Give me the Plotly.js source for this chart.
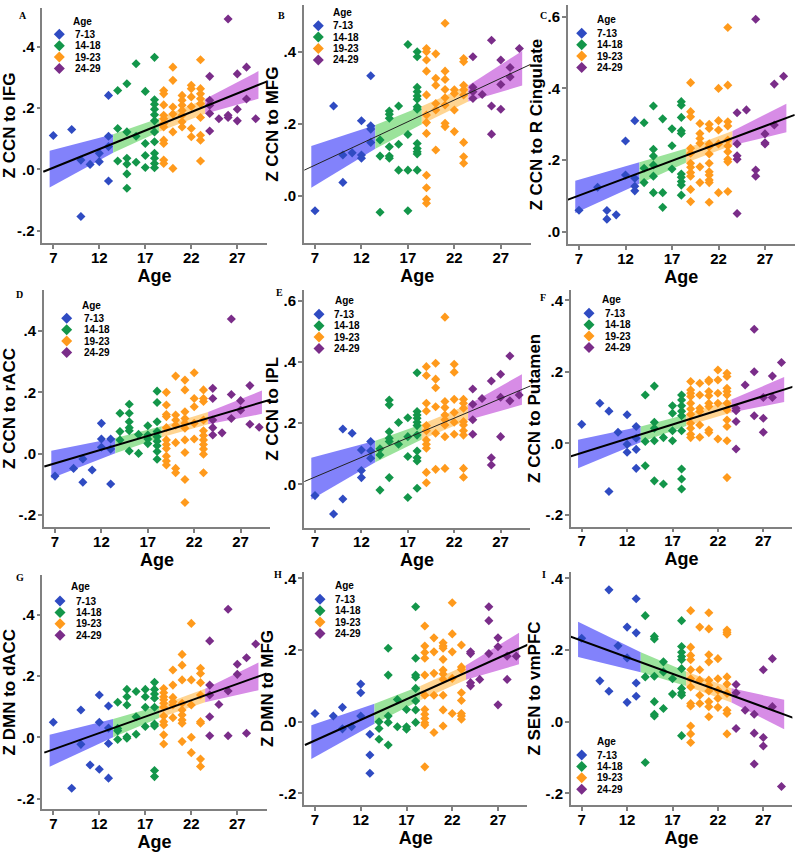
<!DOCTYPE html>
<html><head><meta charset="utf-8">
<script src="https://cdn.plot.ly/plotly-3.0.1.min.js"></script>
<style>html,body{margin:0;padding:0;background:#fff}#chart{width:800px;height:856px}</style>
</head><body><div id="chart"></div>
<script>
// ---------- shared categories / ticks ----------
const ages = [7,9,10,11,12,13,14,15,16,17,18,19,20,21,22,23,24,25,26,27,28,29];
const groups = ['7-13','14-18','19-23','24-29'];
const groupMin = [7,14,19,24];
const groupMax = [13,18,23,29];
const xTickLabels = ['7','12','17','22','27'];
const ciAges = [6.6, 13.5, 18.5, 23.5, 29.3];

// ---------- panel A : Z CCN to IFG ----------
const zA = [[.11],[.13],[.03,-.154],[.016],[.025,.052],[.241,.108,.074,-.038],
 [.133,.027,.257],[.279,.122,.036,.017,-.015,-.062],[.344,.108,.023],[.254,.084,.045,.006],
 [.365,.227,.212,.196,.178,.158,.122,.09,.052,.036,.019,.005],
 [.257,.246,.21,.176,.165,.149,.138,.095,.084,.03,.019],[.333,.29,.203,.18,.122,.003],
 [.241,.225,.209,.192,.176,.155,.138],[.274,.263,.236,.205,.133,.106],
 [.357,.263,.246,.23,.214,.169,.111,.095,.027],
 [.303,.225,.209,.182,.125],[.165],[.49,.176,.169],[.311,.196,.158],[.333,.229],[.165]];
const fitAgeA = [5.91, 30.19], fitZA = [-0.008, 0.286];
const ciHalfA = [0.06, 0.03, 0.022, 0.024, 0.045];
const yTicksA = ['-.2','.0','.2','.4'];

// ---------- panel B : Z CCN to MFG ----------
const zB = [[-.042],[.249],[.113,.037],[.119],[.208,.113,.104],[.333,.194,.185,.148],
 [.155,.11,-.046],[.235,.226,.215,.136,.11,.104],[.249,.143,.071],[.42,.17,.071,-.042],
 [.4,.386,.301,.289,.277,.268,.247,.24,.145,.131,.122,.116,.071],
 [.409,.4,.377,.346,.28,.224,.203,.173,.057,.022,-.01,-.021],[.394,.326,.307,.256,.238,.127],
 [.479,.346,.323,.295,.272,.252,.201,.192],[.294,.284,.238,.178],
 [.381,.372,.307,.294,.28,.148,.108,.09],
 [.386,.301,.289,.27],[.281],[.432,.249,.171],[.377,.309,.24],[.356,.33],[.409]];
const fitAgeB = [5.85, 30.3], fitZB = [0.071, 0.366];
const ciHalfB = [0.058, 0.033, 0.025, 0.022, 0.048];
const yTicksB = ['.0','.2','.4'];

// ---------- panel C : Z CCN to R Cingulate ----------
const zC = [[.06],[.124],[.059,.035],[.047],[.253,.158],[.31,.149,.127,.114],
 [.304,.177,.137],[.351,.23,.211,.186,.155,.109],[.315,.109,.068],[.287,.24,.175],
 [.363,.353,.319,.282,.274,.161,.152,.14,.13,.102],
 [.416,.335,.321,.233,.219,.191,.18,.165,.155,.118,.084],[.302,.274,.26,.247,.181,.137],
 [.3,.288,.245,.237,.217,.191,.167,.158,.144,.137,.082],[.4,.31,.284,.245,.109],
 [.57,.409,.307,.295,.256,.239,.223,.202,.195,.112],
 [.332,.245,.212,.202,.051],[.34],[.593,.172,.155],[.273,.248,.245],[.412,.298],[.434]];
const fitAgeC = [5.67, 30.2], fitZC = [0.088, 0.326];
const ciHalfC = [0.045, 0.03, 0.02, 0.02, 0.04];
const yTicksC = ['.0','.2','.4','.6'];

// ---------- panel D : Z CCN to rACC ----------
const zD = [[-.073],[-.048],[-.017,-.093],[-.053],[.099,.048,.021],[.048,.015,-.099],
 [.132,.072,.045],[.161,.132,.104,.085,.075,.009],[.063,.001],[.091,.061,.048,.033],
 [.204,.167,.104,.072,.055,.041,.026,.007,-.018],
 [.2,.159,.128,.121,.085,.045,.03,.017,-.008,-.024,-.037],[.253,.126,.11,.093,.036,-.048,-.062],
 [.24,.208,.137,.115,.099,.083,.045,.004,-.084,-.159],[.264,.18,.153,.099,.048],
 [.208,.18,.17,.11,.075,.059,.045,.03,.015,-.002,-.062],
 [.213,.18,.11,.085,.061],[.068],[.439,.193,.115],[.173,.142],[.222,.096],[.086]];
const fitAgeD = [5.85, 30.2], fitZD = [-0.042, 0.176];
const ciHalfD = [0.045, 0.025, 0.018, 0.02, 0.038];
const yTicksD = ['-.2','.0','.2','.4'];

// ---------- panel E : Z CCN to IPL ----------
const zE = [[-.037],[-.097],[.181,-.048],[.167],[.112,.045,.022],[.14,.11,.085],
 [.116,.096,-.019],[.276,.26,.172,.151,.14,.022],[.202,.131],[.218,.156,.091,-.043],
 [.365,.238,.227,.216,.203,.192,.161,.109,.087,.076,-.013],
 [.385,.356,.265,.24,.192,.175,.145,.131,.118,.039,.005],[.396,.344,.316,.254,.167,.049],
 [.547,.271,.251,.227,.211,.194,.156,.052],[.393,.367,.278,.235,.203,.164],
 [.278,.265,.249,.205,.194,.175,.161,.052,.023],
 [.312,.262,.211,.164],[.281],[.338,.087,.063],[.36,.285,.156],[.42,.273],[.292]];
const fitAgeE = [5.85, 30.3], fitZE = [0.009, 0.323];
const ciHalfE = [0.068, 0.035, 0.025, 0.025, 0.05];
const yTicksE = ['.0','.2','.4','.6'];

// ---------- panel F : Z CCN to Putamen ----------
const zF = [[.053],[.112],[.09,-.135],[.031],[.08,-.003,-.025],[.047,.014,-.017,-.07],
 [.135,.005,-.063],[.16,.059,.042,.007,-.105],[.016,-.114],[.105,.084,.035,.007],
 [.135,.121,.105,.09,.077,.035,-.072,-.1,-.128],
 [.173,.149,.14,.131,.112,.096,.081,.056,.042,.025,.016],[.168,.135,.098,.089,.051,.017],
 [.177,.173,.145,.133,.112,.103,.037,.03],[.205,.177,.14,.112,.012],
 [.196,.187,.154,.145,.135,.112,.093,.065,.047,.007,-.096],
 [.098,.091,.061,-.016],[.163],[.319,.2,.077],[.128,.07,.031],[.188,.128],[.226]];
const fitAgeF = [5.72, 30.5], fitZF = [-0.037, 0.16];
const ciHalfF = [0.04, 0.022, 0.016, 0.018, 0.035];
const yTicksF = ['-.2','.0','.2','.4'];

// ---------- panel G : Z DMN to dACC ----------
const zG = [[.049],[-.166],[.089,-.023],[-.09],[.138,.049,-.104],[.102,.03,-.02,-.133],
 [.114,.029,.021,-.007],[.156,.132,.105,.002,-.003],[.149,.067,.01],[.156,.132,.098,.035],
 [.179,.156,.141,.127,.098,.043,.037,-.108,-.128],
 [.159,.145,.132,.122,.111,.098,.069,.051,.04,.008,-.022],[.219,.17,.13,.116,.105,.064],
 [.27,.235,.187,.111,.089,.073,.056,.046,-.014],[.371,.187,.105,0,-.05],
 [.225,.208,.178,.138,.051,.046,-.071,-.095],
 [.314,.17,.138,.067,.005],[.107],[.417,.151,.005],[.238,.205],[.259,.013],[.304]];
const fitAgeG = [6.02, 30.2], fitZG = [-0.05, 0.208];
const ciHalfG = [0.052, 0.03, 0.02, 0.022, 0.045];
const yTicksG = ['-.2','.0','.2','.4'];

// ---------- panel H : Z DMN to MFG ----------
const zH = [[.023],[.016],[.04,-.02],[-.014],[.105,.081,.016],[-.035,-.093,-.144],
 [0,-.019,-.049],[.205,.13,.016,-.002,-.065],[.062,-.014],[.034,-.014,-.021],
 [.321,.177,.13,.124,.093,.058,.033,-.002],
 [.267,.211,.193,.177,.13,.074,.034,.021,.009,-.003,-.009,-.126],[.234,.195,.135,.074,-.03],
 [.22,.211,.205,.174,.144,.133,.118,.074,.033,-.012],[.332,.245,.195,.121,.023],
 [.214,.153,.146,.081,.059,.023,.016,.007],
 [.195,.19,.109,.1],[.118],[.321,.282,.19],[.234,.209,.047],[.183,.118],[.183]];
const fitAgeH = [5.9, 30.6], fitZH = [-0.065, 0.219];
const ciHalfH = [0.047, 0.028, 0.02, 0.02, 0.044];
const yTicksH = ['-.2','.0','.2','.4'];

// ---------- panel I : Z SEN to vmPFC ----------
const zI = [[.233],[.114],[.368,.085],[.212],[.264,.178,.054],[.343,.248,.108,.071],
 [.296,.125,-.114],[.238,.231,.127,.056,.021,.016],[.167,.139,.037],[.12,.077],
 [.282,.21,.194,.182,.173,.148,.093,.081,.074,-.039],
 [.31,.208,.185,.173,.145,.12,.097,.051,.044,-.012,-.034,-.058],[.264,.145,.116,.074,.051],
 [.304,.259,.187,.167,.116,.102,.086,.056,.042,.014],[.176,.12,.088,.065,.04],
 [.256,.25,.244,.125,.105,.079,.032,.023,-.034],
 [.104,.081,-.019],[.032],[.021,-.032,-.118],[.145,-.044,-.068],[.176,.042],[-.181]];
const fitAgeI = [5.72, 30.5], fitZI = [0.238, 0.009];
const ciHalfI = [0.049, 0.028, 0.02, 0.02, 0.041];
const yTicksI = ['-.2','.0','.2','.4'];

// ---------- styles ----------
const markerColors = ['#2f4bc2','#13964a','#ff9a1c','#7a2d89'];
const bandColors = ['#8282fb','#9be39b','#ffd592','#d78ce6'];
const FONT = 'Liberation Sans, Arial, sans-serif';
const AXIS_COLOR = '#808080';

const panels = [
 {letter:'A', z:zA, fa:fitAgeA, fz:fitZA, ci:ciHalfA, yt:yTicksA, title:'Z CCN to IFG', x7:53.3, xs:9.2, top:8, bottom:243, y0:169.3, ys:306.7, thick:true,
  leg:{tx:82.7, ty:21.7, dx:59.3, lx:73.3, y0:34.3}, lp:[23,15]},
 {letter:'B', z:zB, fa:fitAgeB, fz:fitZB, ci:ciHalfB, yt:yTicksB, title:'Z CCN to MFG', x7:315, xs:9.29, top:5, bottom:243.3, y0:195.7, ys:360, thick:false,
  leg:{tx:342.3, ty:12.7, dx:318.3, lx:331, y0:25.7}, lp:[281,15]},
 {letter:'C', z:zC, fa:fitAgeC, fz:fitZC, ci:ciHalfC, yt:yTicksC, title:'Z CCN to R Cingulate', x7:579, xs:9.3, top:5, bottom:244.3, y0:231.7, ys:358.3, thick:true,
  leg:{tx:606.7, ty:20, dx:581.7, lx:595, y0:33.3}, lp:[543,15]},
 {letter:'D', z:zD, fa:fitAgeD, fz:fitZD, ci:ciHalfD, yt:yTicksD, title:'Z CCN to rACC', x7:55, xs:9.28, top:290, bottom:527, y0:453.7, ys:306.7, thick:true,
  leg:{tx:91.7, ty:305.7, dx:66.7, lx:81.7, y0:318.3}, lp:[19,294]},
 {letter:'E', z:zE, fa:fitAgeE, fz:fitZE, ci:ciHalfE, yt:yTicksE, title:'Z CCN to IPL', x7:315, xs:9.28, top:290, bottom:527.7, y0:484.3, ys:305.6, thick:false,
  leg:{tx:344, ty:300, dx:319, lx:331.7, y0:314.3}, lp:[279,292]},
 {letter:'F', z:zF, fa:fitAgeF, fz:fitZF, ci:ciHalfF, yt:yTicksF, title:'Z CCN to Putamen', x7:581.7, xs:9.08, top:290, bottom:526.7, y0:443.3, ys:357.5, thick:true,
  leg:{tx:611, ty:299.3, dx:589, lx:603.3, y0:313.3}, lp:[543,297]},
 {letter:'G', z:zG, fa:fitAgeG, fz:fitZG, ci:ciHalfG, yt:yTicksG, title:'Z DMN to dACC', x7:53.3, xs:9.2, top:575, bottom:809.3, y0:737.3, ys:307, thick:true,
  leg:{tx:80.7, ty:586, dx:60, lx:74, y0:601}, lp:[20,577]},
 {letter:'H', z:zH, fa:fitAgeH, fz:fitZH, ci:ciHalfH, yt:yTicksH, title:'Z DMN to MFG', x7:315, xs:9.15, top:572, bottom:805, y0:721.7, ys:358.3, thick:true,
  leg:{tx:344.3, ty:585, dx:320, lx:333.3, y0:599.3}, lp:[278,574]},
 {letter:'I', z:zI, fa:fitAgeI, fz:fitZI, ci:ciHalfI, yt:yTicksI, title:'Z SEN to vmPFC', x7:581.7, xs:9.08, top:572, bottom:805, y0:721.7, ys:358.3, thick:true,
  leg:{tx:606.7, ty:741.7, dx:581.7, lx:595, y0:755}, lp:[544,574]}
];

const W = 800, H = 856;
const X_LO = 5.8, X_HI = 30.2;
const traces = [];
const layout = {
  width: W, height: H, margin:{l:0,r:0,t:0,b:0}, showlegend:false,
  paper_bgcolor:'#fff', plot_bgcolor:'#fff', annotations:[], shapes:[], hovermode:'closest'
};

panels.forEach((p, i) => {
  const n = i === 0 ? '' : String(i + 1);
  const xa = 'x' + n, ya = 'y' + n;
  const lineAt = a => p.fz[0] + (p.fz[1] - p.fz[0]) * (a - p.fa[0]) / (p.fa[1] - p.fa[0]);

  // confidence band segments (around the fit line, using read half-widths)
  for (let g = 0; g < 4; g++) {
    const a0 = ciAges[g], a1 = ciAges[g + 1];
    const c0 = lineAt(a0), c1 = lineAt(a1);
    traces.push({
      type:'scatter', mode:'lines', xaxis:xa, yaxis:ya,
      x:[a0, a1, a1, a0, a0],
      y:[c0 - p.ci[g], c1 - p.ci[g+1], c1 + p.ci[g+1], c0 + p.ci[g], c0 - p.ci[g]],
      fill:'toself', fillcolor:bandColors[g], line:{width:0, color:bandColors[g]},
      hoverinfo:'skip', name:groups[g] + ' CI'
    });
  }
  // scatter points by age group
  for (let g = 0; g < 4; g++) {
    const xs = [], ys = [];
    ages.forEach((a, k) => {
      if (a >= groupMin[g] && a <= groupMax[g]) p.z[k].forEach(v => { xs.push(a); ys.push(v); });
    });
    traces.push({
      type:'scatter', mode:'markers', xaxis:xa, yaxis:ya, x:xs, y:ys, name:groups[g],
      marker:{symbol:'diamond', size:7, color:markerColors[g], line:{width:0}}
    });
  }
  // fit line
  traces.push({
    type:'scatter', mode:'lines', xaxis:xa, yaxis:ya, x:p.fa, y:p.fz, name:'Fit',
    line:{color: p.thick ? '#000' : '#222', width: p.thick ? 2 : 1}, hoverinfo:'skip'
  });

  const left = p.x7 - (7 - X_LO) * p.xs, right = p.x7 + (X_HI - 7) * p.xs;
  const yRange = [(p.y0 - p.bottom) / p.ys, (p.y0 - p.top) / p.ys];
  const tickFont = {family:FONT, size:15, weight:'bold', color:'#000'};
  layout['xaxis' + n] = {
    domain:[left / W, right / W], range:[X_LO, X_HI], anchor:ya,
    tickvals:xTickLabels.map(Number), ticktext:xTickLabels, tickfont:tickFont,
    showline:true, linecolor:AXIS_COLOR, linewidth:1.5, ticks:'outside', ticklen:4,
    tickcolor:AXIS_COLOR, tickwidth:1.5, showgrid:false, zeroline:false, fixedrange:true,
    ticklabelstandoff:-4,
    title:{text:'Age', font:{family:FONT, size:18, weight:'bold', color:'#000'}, standoff:0}
  };
  layout['yaxis' + n] = {
    domain:[1 - p.bottom / H, 1 - p.top / H], range:yRange, anchor:xa,
    tickvals:p.yt.map(parseFloat), ticktext:p.yt, tickfont:tickFont,
    showline:true, linecolor:AXIS_COLOR, linewidth:1.5, ticks:'outside', ticklen:4,
    tickcolor:AXIS_COLOR, tickwidth:1.5, showgrid:false, zeroline:false, fixedrange:true,
    ticklabelstandoff:-1,
    title:{text:p.title, font:{family:FONT, size:17, weight:'bold', color:'#000'}, standoff:1}
  };

  // panel letter
  layout.annotations.push({xref:'paper', yref:'paper', x:p.lp[0] / W, y:1 - p.lp[1] / H,
    text:p.letter, showarrow:false, xanchor:'center', yanchor:'middle',
    font:{family:'Liberation Serif, serif', size:10, weight:'bold', color:'#000'}});
  // legend (Age groups)
  const L = p.leg, legFont = {family:FONT, size:10, weight:'bold', color:'#000'};
  layout.annotations.push({xref:'paper', yref:'paper', x:L.tx / W, y:1 - L.ty / H, text:'Age',
    showarrow:false, xanchor:'center', yanchor:'middle', font:legFont});
  const hx = 5.5 / W, hy = 5.5 / H;
  groups.forEach((gname, g) => {
    const yy = 1 - (L.y0 + g * 11.4) / H, xx = L.dx / W;
    layout.shapes.push({type:'path', xref:'paper', yref:'paper',
      path:`M ${xx - hx} ${yy} L ${xx} ${yy + hy} L ${xx + hx} ${yy} L ${xx} ${yy - hy} Z`,
      fillcolor:markerColors[g], line:{width:0}});
    layout.annotations.push({xref:'paper', yref:'paper', x:L.lx / W, y:yy, text:gname,
      showarrow:false, xanchor:'left', yanchor:'middle', font:legFont});
  });
});

Plotly.newPlot('chart', traces, layout, {displayModeBar:false, responsive:false});
</script></body></html>
